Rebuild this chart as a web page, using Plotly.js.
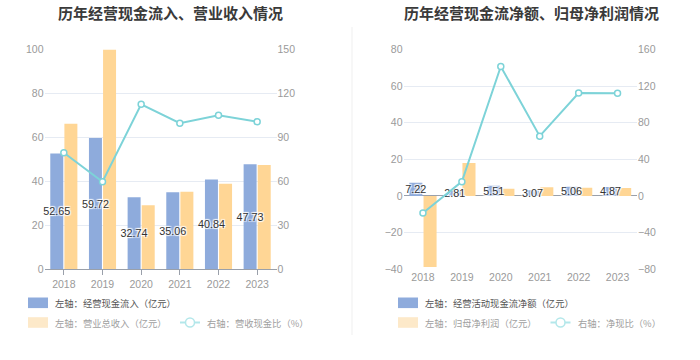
<!DOCTYPE html>
<html>
<head>
<meta charset="utf-8">
<script src="https://cdn.plot.ly/plotly-3.0.1.min.js"></script>
<style>html,body{margin:0;padding:0;background:#fff;}#chart{width:700px;height:360px;}</style>
</head>
<body>
<div id="chart"></div>
<script>
// ---- data ----
const years = ['2018', '2019', '2020', '2021', '2022', '2023'];
const cashInflow = [52.65, 59.72, 32.74, 35.06, 40.84, 47.73];      // 经营现金流入（亿元）
const revenue = [66.2, 100.0, 29.1, 35.2, 38.9, 47.4];              // 营业总收入（亿元）
const cashRevenueRatio = [79.5, 59.7, 112.5, 99.6, 105.0, 100.7];   // 营收现金比（%）
const netOpCash = [7.22, 2.81, 5.51, 3.07, 5.06, 4.87];             // 经营活动现金流净额（亿元）
const netProfit = [-38.8, 18.0, 3.9, 4.7, 4.5, 4.35];               // 归母净利润（亿元）
const netCashRatio = [-18.6, 15.6, 141.3, 65.3, 112.4, 112.0];      // 净现比（%）

const titles = ['历年经营现金流入、营业收入情况', '历年经营现金流净额、归母净利润情况'];
const legendNames1 = ['左轴：经营现金流入（亿元）', '左轴：营业总收入（亿元）', '右轴：营收现金比（%）'];
const legendNames2 = ['左轴：经营活动现金流净额（亿元）', '左轴：归母净利润（亿元）', '右轴：净现比（%）'];

// ---- style ----
const W = 700, H = 360;
const px = x => x / W;
const py = y => 1 - y / H;
const BLUE = '#8eabdc', ORANGE = '#ffd695', TEAL = '#7dd3d8';
const FONT = '"Noto Sans CJK SC", "Noto Sans", sans-serif';
const tickFont = {family: 'Liberation Sans, Arial, sans-serif', size: 10.5, color: '#9a9a9a'};
const labelFont = {family: 'Liberation Sans, Arial, sans-serif', size: 10.8, color: '#333',
  shadow: '1px 1px 1px #fff, -1px -1px 1px #fff, 1px -1px 1px #fff, -1px 1px 1px #fff'};
const GRID = '#e6ebf3';

function barTrace(y, color, xa, ya, group) {
  return {type: 'bar', x: years, y: y, xaxis: xa, yaxis: ya, offsetgroup: group,
    marker: {color: color}, showlegend: false, hoverinfo: 'x+y'};
}
// transparent copy of a bar series, drawn last in the same slot, carrying the value labels
function labelTrace(y, xa, ya, group) {
  return {type: 'bar', x: years, y: y, xaxis: xa, yaxis: ya, offsetgroup: group,
    marker: {color: 'rgba(0,0,0,0)'}, showlegend: false, hoverinfo: 'skip',
    text: y.map(v => v.toFixed(2)), textposition: 'inside', insidetextanchor: 'middle',
    constraintext: 'none', textangle: 0, textfont: labelFont, insidetextfont: labelFont,
    cliponaxis: false};
}
function lineTrace(y, xa, ya) {
  return {type: 'scatter', mode: 'lines+markers', x: years, y: y, xaxis: xa, yaxis: ya,
    line: {color: TEAL, width: 2},
    marker: {symbol: 'circle', size: 6, color: '#fff', line: {color: TEAL, width: 1.5}},
    showlegend: false, hoverinfo: 'x+y'};
}

const data = [
  barTrace(cashInflow, BLUE, 'x', 'y', 'a'),
  barTrace(revenue, ORANGE, 'x', 'y', 'b'),
  labelTrace(cashInflow, 'x', 'y', 'a'),
  lineTrace(cashRevenueRatio, 'x', 'y2'),
  barTrace(netOpCash, BLUE, 'x2', 'y3', 'c'),
  barTrace(netProfit, ORANGE, 'x2', 'y3', 'd'),
  labelTrace(netOpCash, 'x2', 'y3', 'c'),
  lineTrace(netCashRatio, 'x2', 'y4')
];

const yDom = [py(269.2), py(49.4)];
const xBase = {type: 'category', showgrid: false, zeroline: false, tickfont: tickFont,
  ticks: 'outside', ticklen: 5, tickcolor: '#9aa0aa', fixedrange: true};
const yBase = {tickfont: tickFont, gridcolor: GRID, gridwidth: 1, zeroline: false,
  showline: false, ticks: '', fixedrange: true, domain: yDom};

const layout = {
  width: W, height: H,
  margin: {l: 0, r: 0, t: 0, b: 0},
  paper_bgcolor: '#fff', plot_bgcolor: '#fff',
  barmode: 'group', bargap: 0.27, bargroupgap: 0.08,
  showlegend: false,
  font: {family: FONT},
  xaxis: Object.assign({}, xBase, {domain: [px(44.5), px(276.5)], anchor: 'y',
    showline: true, linecolor: '#9aa0aa', linewidth: 1}),
  yaxis: Object.assign({}, yBase, {anchor: 'x', range: [0, 100], dtick: 20}),
  yaxis2: Object.assign({}, yBase, {anchor: 'x', overlaying: 'y', side: 'right',
    range: [0, 150], dtick: 30, showgrid: false}),
  xaxis2: Object.assign({}, xBase, {domain: [px(403.5), px(637)], anchor: 'y3',
    showline: false, ticks: ''}),
  yaxis3: Object.assign({}, yBase, {anchor: 'x2', range: [-40, 80], dtick: 20,
    zeroline: true, zerolinecolor: '#9aa0aa', zerolinewidth: 1}),
  yaxis4: Object.assign({}, yBase, {anchor: 'x2', overlaying: 'y3', side: 'right',
    range: [-80, 160], dtick: 40, showgrid: false}),
  shapes: [],
  annotations: []
};

// titles
[[titles[0], 170], [titles[1], 531]].forEach(([t, cx]) => {
  layout.annotations.push({text: '<b>' + t + '</b>', xref: 'paper', yref: 'paper',
    x: px(cx), y: py(13), xanchor: 'center', yanchor: 'middle', showarrow: false,
    font: {family: FONT, size: 15, color: '#3a3a3a'}});
});

// divider
layout.shapes.push({type: 'line', xref: 'paper', yref: 'paper', x0: px(352), x1: px(352),
  y0: py(27), y1: py(335), line: {color: '#efefef', width: 1}});

// legends
function addLegend(x0, lineX, names) {
  const row1 = 302.8, row2 = 322.5;
  layout.shapes.push({type: 'rect', xref: 'paper', yref: 'paper',
    x0: px(x0), x1: px(x0 + 20), y0: py(row1 - 5.3), y1: py(row1 + 5.3),
    fillcolor: BLUE, line: {width: 0}});
  layout.shapes.push({type: 'rect', xref: 'paper', yref: 'paper',
    x0: px(x0), x1: px(x0 + 20), y0: py(row2 - 5.3), y1: py(row2 + 5.3),
    fillcolor: '#fde9c9', line: {width: 0}});
  layout.shapes.push({type: 'line', xref: 'paper', yref: 'paper',
    x0: px(lineX), x1: px(lineX + 20), y0: py(row2), y1: py(row2),
    line: {color: '#b3e7ea', width: 2}});
  layout.shapes.push({type: 'circle', xref: 'paper', yref: 'paper',
    x0: px(lineX + 5.5), x1: px(lineX + 14.5), y0: py(row2 - 4.5), y1: py(row2 + 4.5),
    fillcolor: '#fff', line: {color: '#b3e7ea', width: 1.5}});
  const f1 = {family: FONT, size: 9.3, color: '#555'};
  const f2 = {family: FONT, size: 9.3, color: '#a0a0a0'};
  layout.annotations.push({text: names[0], xref: 'paper', yref: 'paper', x: px(x0 + 24.5), y: py(row1),
    xanchor: 'left', yanchor: 'middle', showarrow: false, font: f1});
  layout.annotations.push({text: names[1], xref: 'paper', yref: 'paper', x: px(x0 + 24.5), y: py(row2),
    xanchor: 'left', yanchor: 'middle', showarrow: false, font: f2});
  layout.annotations.push({text: names[2], xref: 'paper', yref: 'paper', x: px(lineX + 25), y: py(row2),
    xanchor: 'left', yanchor: 'middle', showarrow: false, font: f2});
}
addLegend(28, 180, legendNames1);
addLegend(398, 550.5, legendNames2);

Plotly.newPlot('chart', data, layout, {displayModeBar: false, staticPlot: true});
</script>
</body>
</html>
